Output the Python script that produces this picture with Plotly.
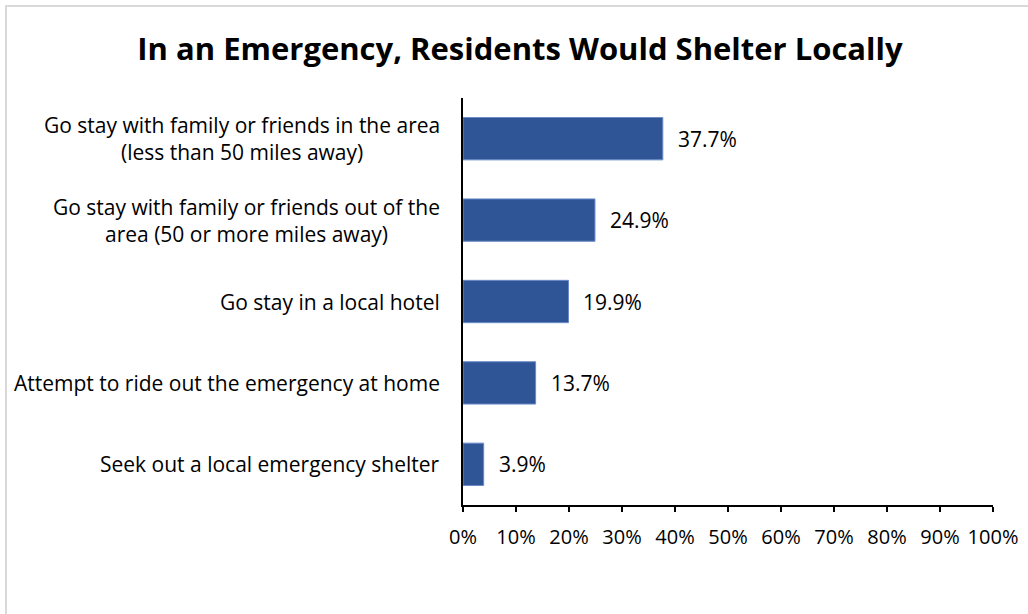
import plotly.graph_objects as go

# Survey responses: where residents would go in an emergency
categories = [
    "Go stay with family or friends in the area<br>(less than 50 miles away)",
    "Go stay with family or friends out of the<br>area (50 or more miles away)",
    "Go stay in a local hotel",
    "Attempt to ride out the emergency at home",
    "Seek out a local emergency shelter",
]
shares = [37.7, 24.9, 19.9, 13.7, 3.9]
tick_vals = [0, 10, 20, 30, 40, 50, 60, 70, 80, 90, 100]
tick_text = [f"{v}%" for v in tick_vals]

FONT = "Open Sans, Carlito, Calibri, sans-serif"
W, H = 1028, 614
L, R, T, B = 463, 35, 98, 109
pw, ph = W - L - R, H - T - B


def px_x(p):
    return (p - L) / pw


def px_y(p):
    return (H - B - p) / ph


fig = go.Figure(
    go.Bar(
        x=shares,
        y=categories,
        orientation="h",
        width=0.52,
        marker=dict(color="#2F5597", line=dict(color="#6A8AC6", width=1)),
        hoverinfo="skip",
    )
)

# value labels beside each bar
for c, v in zip(categories, shares):
    fig.add_annotation(
        x=v, y=c, xref="x", yref="y", text=f"{v:.1f}%",
        showarrow=False, xanchor="left", xshift=13,
        font=dict(family=FONT, size=21, color="#000000"),
    )

# category labels, centred line by line, right edge near the axis
for c in categories:
    fig.add_annotation(
        x=px_x(442), y=c, xref="paper", yref="y", text=c,
        showarrow=False, xanchor="right", align="center",
        font=dict(family=FONT, size=21, color="#000000"),
    )

# light frame around the chart
fig.add_shape(
    type="rect", xref="paper", yref="paper",
    x0=px_x(6), x1=px_x(1040), y0=px_y(630), y1=px_y(6),
    line=dict(color="#D9D9D9", width=2), fillcolor="rgba(0,0,0,0)", layer="below",
)

fig.update_layout(
    width=W, height=H,
    margin=dict(l=L, r=R, t=T, b=B, autoexpand=False),
    paper_bgcolor="white", plot_bgcolor="white",
    showlegend=False,
    title=dict(
        text="<b>In an Emergency, Residents Would Shelter Locally</b>",
        x=520 / W, xanchor="center", y=1 - 49 / H, yanchor="middle",
        font=dict(family=FONT, size=31, color="#000000"),
    ),
    xaxis=dict(
        range=[0, 100], tickvals=tick_vals, ticktext=tick_text,
        showgrid=False, zeroline=False, automargin=False,
        showline=True, linecolor="#000000", linewidth=1.5,
        ticks="outside", ticklen=5, tickcolor="#000000", tickwidth=1.5,
        ticklabelstandoff=8,
        tickfont=dict(family=FONT, size=20, color="#000000"),
        fixedrange=True,
    ),
    yaxis=dict(
        categoryorder="array", categoryarray=categories[::-1],
        showticklabels=False, showgrid=False, zeroline=False, automargin=False,
        showline=True, linecolor="#000000", linewidth=1.5,
        ticks="", fixedrange=True,
    ),
)

fig.write_html("out.html")
